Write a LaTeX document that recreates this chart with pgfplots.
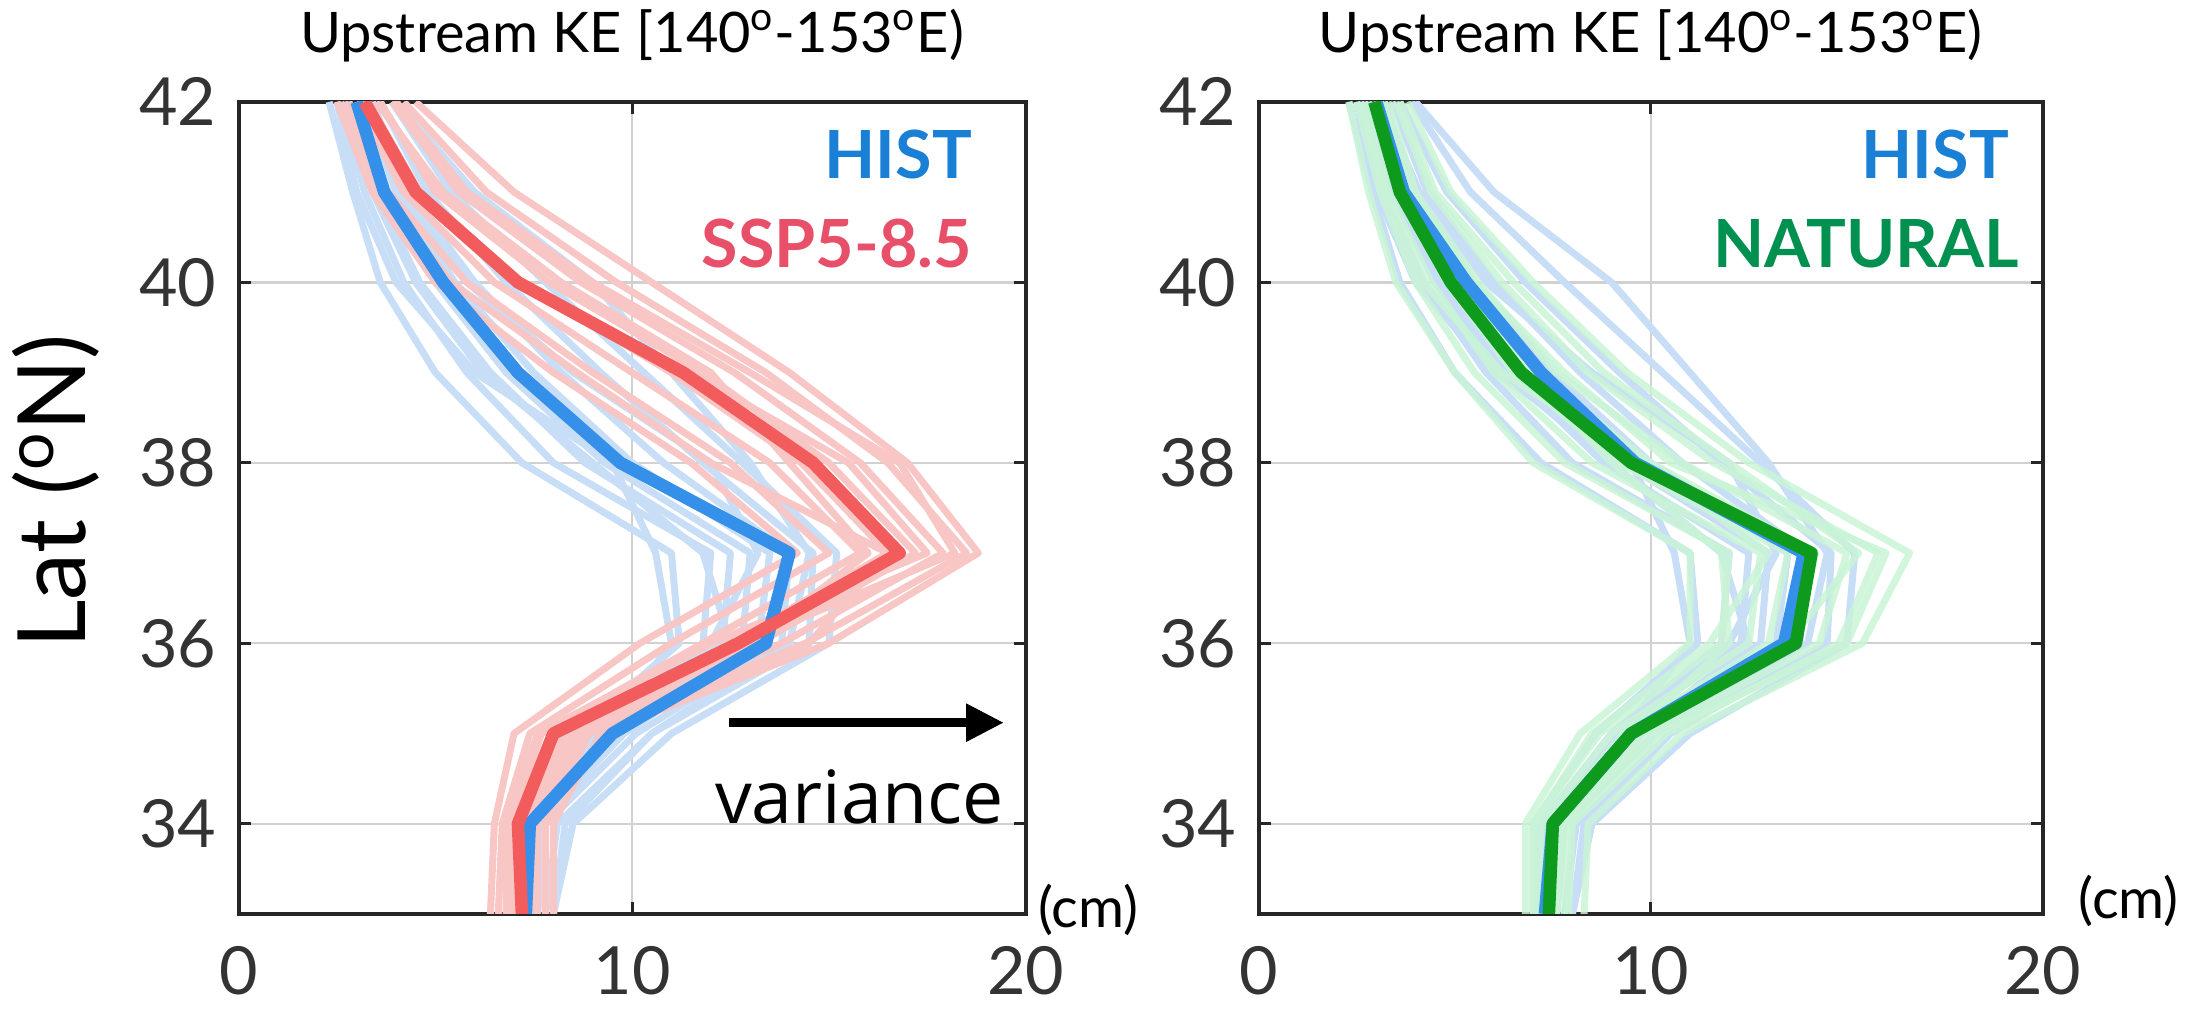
\documentclass[border=0pt]{standalone}
\usepackage{pgfplots}
\pgfplotsset{compat=1.18}
\usepackage{pgfplotstable}
\usepackage{fontspec}
\setmainfont{Lato}
\newfontfamily\osans{Open Sans}
\usetikzlibrary{arrows.meta}

\definecolor{hblue}{HTML}{3590EA}
\definecolor{hbluel}{HTML}{C7DEF6}
\definecolor{sred}{HTML}{F25C5C}
\definecolor{sredl}{HTML}{F9C6C6}
\definecolor{ngreen}{HTML}{0E9A1C}
\definecolor{ngreenl}{HTML}{C9F4D6}
\definecolor{txtblue}{HTML}{1A80D6}
\definecolor{txtred}{HTML}{E8506A}
\definecolor{txtgreen}{HTML}{00904F}

% HIST ensemble members
\pgfplotstableread{
lat B1 B2 B3 B4 B5 B6 B7 B8 B9 B10 B11 B12
42 2.3 2.6 2.8 3.0 3.2 3.4 3.6 3.9 2.5 3.1 4.0 2.7
41 2.9 3.2 3.5 3.8 4.0 4.3 4.8 5.4 3.0 4.1 6.0 3.4
40 3.6 4.2 4.6 5.0 5.5 6.0 6.8 7.8 4.0 5.8 9.0 4.5
39 5.0 5.8 6.4 6.8 7.5 8.2 9.2 10.3 6.0 8.5 11.0 6.2
38 7.2 8.0 8.8 9.3 10.0 10.8 11.8 12.8 9.5 12.0 13.0 9.0
37 11.0 12.0 12.5 13.0 13.5 14.0 14.6 15.2 10.6 13.2 14.5 11.8
36 11.2 11.8 12.3 12.8 13.2 13.8 14.5 15.0 11.0 12.0 14.0 12.5
35 8.6 9.0 9.2 9.5 9.8 10.1 10.5 11.0 9.3 9.0 10.5 9.7
34 7.0 7.2 7.3 7.5 7.6 7.8 8.1 8.5 7.4 7.2 8.3 7.7
33 7.0 7.1 7.2 7.3 7.4 7.6 7.8 8.0 7.2 7.0 8.0 7.5
}\histtab

% SSP5-8.5 ensemble members
\pgfplotstableread{
lat R1 R2 R3 R4 R5 R6 R7 R8 R9 R10 R11 R12
42 2.5 2.8 3.0 3.3 3.6 3.9 4.2 4.5 3.1 3.5 2.7 4.0
41 3.4 3.8 4.2 4.6 5.0 5.6 6.3 7.0 4.4 5.2 3.6 5.8
40 5.0 5.8 6.5 7.2 7.9 8.7 9.6 10.5 7.0 8.2 5.4 9.0
39 8.0 9.0 10.0 11.0 11.8 12.6 13.4 14.0 11.5 12.0 8.6 13.0
38 11.5 12.5 13.5 14.3 15.0 15.8 16.5 17.0 15.5 14.0 12.0 16.8
37 14.2 15.0 15.8 16.5 17.2 17.9 18.5 18.8 17.5 16.0 16.5 18.2
36 10.2 11.0 11.8 12.5 13.2 13.8 14.4 15.0 12.0 13.0 14.5 12.8
35 7.0 7.4 7.7 8.0 8.3 8.6 8.9 9.2 7.6 8.5 8.8 8.2
34 6.5 6.7 6.9 7.1 7.3 7.5 7.8 8.0 6.8 7.4 7.6 7.0
33 6.4 6.6 6.9 7.1 7.3 7.5 7.8 8.0 6.8 7.2 7.6 7.0
}\ssptab

% NATURAL ensemble members
\pgfplotstableread{
lat G1 G2 G3 G4 G5 G6 G7 G8 G9 G10 G11 G12
42 2.3 2.5 2.7 2.9 3.1 3.3 3.5 3.8 2.6 3.0 3.2 3.6
41 2.8 3.1 3.3 3.5 3.8 4.0 4.4 4.9 3.2 3.9 3.7 4.5
40 3.5 4.0 4.4 4.8 5.2 5.6 6.2 7.0 4.2 5.5 5.0 6.5
39 5.0 5.5 6.0 6.5 7.0 7.6 8.4 9.4 6.2 7.8 6.8 8.8
38 7.0 7.8 8.5 9.2 10.0 10.8 11.6 12.5 9.8 10.5 9.0 12.0
37 11.0 12.0 12.8 13.5 14.2 15.0 15.8 16.6 13.0 16.0 11.8 15.3
36 11.0 11.8 12.5 13.0 13.7 14.3 14.8 15.4 11.5 15.0 12.0 13.5
35 8.2 8.7 9.0 9.3 9.6 10.0 10.4 10.8 8.5 10.2 9.5 9.8
34 6.8 7.0 7.2 7.4 7.5 7.7 8.0 8.4 7.0 7.8 7.6 7.9
33 6.8 7.0 7.1 7.3 7.4 7.6 7.9 8.3 7.0 7.6 7.4 7.8
}\nattab

% ensemble means
\pgfplotstableread{
lat histL ssp histR nat
42 3.0 3.2 3.0 2.95
41 3.7 4.5 3.7 3.6
40 5.2 7.1 5.3 4.9
39 7.1 11.3 7.2 6.7
38 9.7 14.6 9.6 9.5
37 14.0 16.8 13.9 14.1
36 13.4 12.7 13.4 13.7
35 9.5 8.0 9.5 9.5
34 7.4 7.1 7.5 7.5
33 7.3 7.2 7.3 7.4
}\meantab

\pgfplotsset{
  kestyle/.style={
    scale only axis, width=7.913cm, height=8.166cm,
    xmin=0, xmax=20, ymin=33, ymax=42,
    xtick={0,10,20}, ytick={34,36,38,40,42},
    grid=major, major grid style={black!18, line width=0.7pt},
    tick align=inside, major tick length=0.12cm,
    axis line style={line width=1.1pt, black!85},
    tick style={black!85, line width=0.9pt},
    ticklabel style={font=\fontsize{19}{22}\selectfont, text=black!80},
    /pgf/number format/assume math mode=true,
    xticklabel style={yshift=-0.2cm},
    yticklabel style={xshift=-0.1cm},
    clip mode=individual,
  },
  member/.style={line width=2pt, line join=round},
  meanline/.style={line width=3.6pt, line join=round},
}
\newcommand{\ketitle}{\node[anchor=base, font=\fontsize{16}{19}\selectfont, inner sep=0pt] at (rel axis cs:0.5,1) [yshift=0.5cm] {Upstream KE [140\textsuperscript{o}-153\textsuperscript{o}E)};}

\begin{document}
\begin{tikzpicture}
\useasboundingbox (0,0) rectangle (22,10.242);

\node[rotate=90, font=\fontsize{27}{30}\selectfont] at (0.56,5.30) {Lat (\textsuperscript{o}N)};

% left panel
\begin{axis}[kestyle, at={(2.399cm,1.052cm)}, anchor=south west]
\pgfplotsinvokeforeach{1,...,12}{
  \addplot[member, color=hbluel] table[x=B#1, y=lat] {\histtab};
}
\pgfplotsinvokeforeach{1,...,12}{
  \addplot[member, color=sredl] table[x=R#1, y=lat] {\ssptab};
}
\addplot[meanline, color=hblue] table[x=histL, y=lat] {\meantab};
\addplot[meanline, color=sred] table[x=ssp, y=lat] {\meantab};
\draw[-{Triangle[length=0.38cm,width=0.36cm]}, line width=2.6pt] (axis cs:12.45,35.12) -- (axis cs:19.45,35.12);
\node[anchor=base east, font=\osans\fontsize{21}{24}\selectfont, inner sep=0pt] at (axis cs:19.45,34.0) {variance};
\node[anchor=base east, font=\bfseries\fontsize{19}{22}\selectfont, text=txtblue, inner sep=0pt] at (axis cs:18.65,41.15) {HIST};
\node[anchor=base east, font=\bfseries\fontsize{19}{22}\selectfont, text=txtred, inner sep=0pt] at (axis cs:18.65,40.16) {SSP5-8.5};
\node[anchor=west, font=\fontsize{16}{19}\selectfont, inner sep=0pt] at (axis cs:20.3,33.05) {(cm)};
\ketitle
\end{axis}

% right panel
\begin{axis}[kestyle, width=7.885cm, at={(12.656cm,1.052cm)}, anchor=south west]
\pgfplotsinvokeforeach{1,...,12}{
  \addplot[member, color=hbluel] table[x=B#1, y=lat] {\histtab};
}
\pgfplotsinvokeforeach{1,...,12}{
  \addplot[member, color=ngreenl, opacity=0.85] table[x=G#1, y=lat] {\nattab};
}
\addplot[meanline, color=hblue] table[x=histR, y=lat] {\meantab};
\addplot[meanline, color=ngreen] table[x=nat, y=lat] {\meantab};
\node[anchor=base east, font=\bfseries\fontsize{19}{22}\selectfont, text=txtblue, inner sep=0pt] at (axis cs:19.15,41.15) {HIST};
\node[anchor=base east, font=\bfseries\fontsize{19}{22}\selectfont, text=txtgreen, inner sep=0pt] at (axis cs:19.4,40.16) {NATURAL};
\node[anchor=west, font=\fontsize{16}{19}\selectfont, inner sep=0pt] at (axis cs:20.9,33.15) {(cm)};
\ketitle
\end{axis}
\end{tikzpicture}
\end{document}
